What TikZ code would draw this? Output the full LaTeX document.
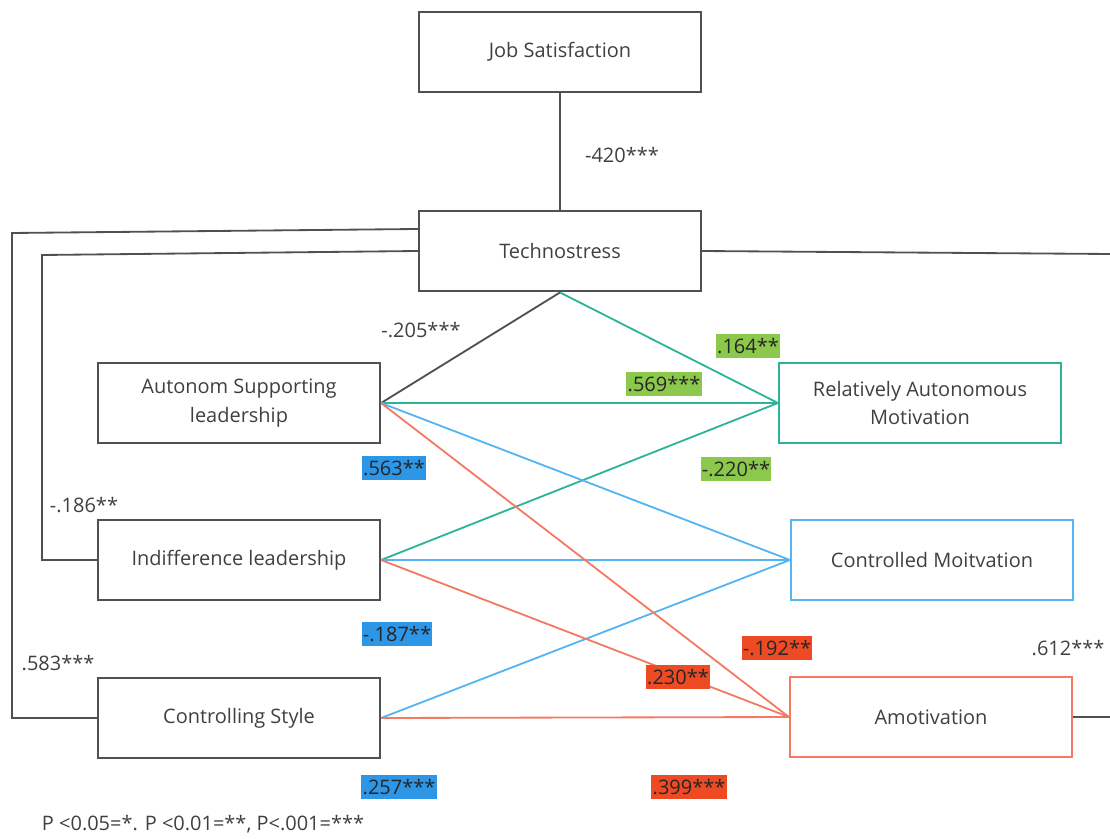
\documentclass[tikz,border=0pt]{standalone}
\usepackage{fontspec}
\setmainfont{Open Sans}
\definecolor{txtgray}{HTML}{404040}
\definecolor{linegray}{HTML}{505050}
\definecolor{tealline}{HTML}{2DB398}
\definecolor{blueline}{HTML}{55B4F2}
\definecolor{redline}{HTML}{F47A63}
\definecolor{greenbg}{HTML}{8CC84B}
\definecolor{bluebg}{HTML}{2D96E6}
\definecolor{redbg}{HTML}{EE4A24}
\tikzset{
  varbox/.style={draw=linegray, line width=1.5pt, minimum width=7.05cm, minimum height=2.02cm, align=center, text=txtgray, font=\fontsize{14.2}{20.5}\selectfont},
  coef/.style={text=txtgray, font=\fontsize{14.2}{16}\selectfont, inner xsep=1pt, inner ysep=3pt},
  greencoef/.style={coef, fill=greenbg, text=black!85},
  bluecoef/.style={coef, fill=bluebg, text=black!85},
  redcoef/.style={coef, fill=redbg, text=black!85},
}
\begin{document}
\begin{tikzpicture}[x=0.025cm, y=-0.025cm]
\useasboundingbox (0,0) rectangle (1110,839);

% boxes
\node[varbox] (job) at (560,52) {Job Satisfaction};
\node[varbox] (techno) at (560,251) {Technostress};
\node[varbox] (autsup) at (239,403) {Autonom Supporting\\leadership};
\node[varbox] (indiff) at (239,560) {Indifference leadership};
\node[varbox] (ctrlstyle) at (239,718) {Controlling Style};
\node[varbox, draw=tealline] (relaut) at (920,403) {Relatively Autonomous\\Motivation};
\node[varbox, draw=blueline] (ctrlmot) at (932,560) {Controlled Moitvation};
\node[varbox, draw=redline] (amot) at (931,717) {Amotivation};

\coordinate (edgeA) at (1110,254);
\coordinate (edgeB) at (1110,717);

% grey paths
\draw[linegray, line width=1.3pt] (job) -- (techno);
\draw[linegray, line width=1.3pt] (techno.south) -- (autsup.east);
\draw[linegray, line width=1.3pt] ([yshift=0.55cm]techno.west) -- (12,233) |- (ctrlstyle.west);
\draw[linegray, line width=1.3pt] (techno.west) -- (42,255) |- (indiff.west);
\draw[linegray, line width=1.3pt] (techno.east) -- (edgeA);
\draw[linegray, line width=1.3pt] (amot.east) -- (edgeB);

% coloured paths
\draw[tealline, line width=1.3pt] (techno.south) -- (relaut.west);
\draw[tealline, line width=1.3pt] (autsup.east) -- (relaut.west);
\draw[tealline, line width=1.3pt] (indiff.east) -- (relaut.west);
\draw[blueline, line width=1.3pt] (autsup.east) -- (ctrlmot.west);
\draw[blueline, line width=1.3pt] (indiff.east) -- (ctrlmot.west);
\draw[blueline, line width=1.3pt] (ctrlstyle.east) -- (ctrlmot.west);
\draw[redline, line width=1.3pt] (autsup.east) -- (amot.west);
\draw[redline, line width=1.3pt] (indiff.east) -- (amot.west);
\draw[redline, line width=1.3pt] (ctrlstyle.east) -- (amot.west);

% coefficients
\node[coef] (c1) at (622,155) {-420***};
\node[coef] (c2) at (421,330) {-.205***};
\node[coef] (c3) at (84,505) {-.186**};
\node[coef] (c4) at (58,663) {.583***};
\node[coef] (c5) at (1068,648) {.612***};
\node[greencoef] (c6) at (748,346) {.164**};
\node[greencoef] (c7) at (664,384) {.569***};
\node[greencoef] (c8) at (736,469) {-.220**};
\node[bluecoef] (c9) at (394,468) {.563**};
\node[bluecoef] (c10) at (397,634) {-.187**};
\node[bluecoef] (c11) at (399,787) {.257***};
\node[redcoef] (c12) at (777,648) {-.192**};
\node[redcoef] (c13) at (678,677) {.230**};
\node[redcoef] (c14) at (689,787) {.399***};

\node[coef] (legend) at (203,824) {P <0.05=*. P <0.01=**, P<.001=***};
\end{tikzpicture}
\end{document}
